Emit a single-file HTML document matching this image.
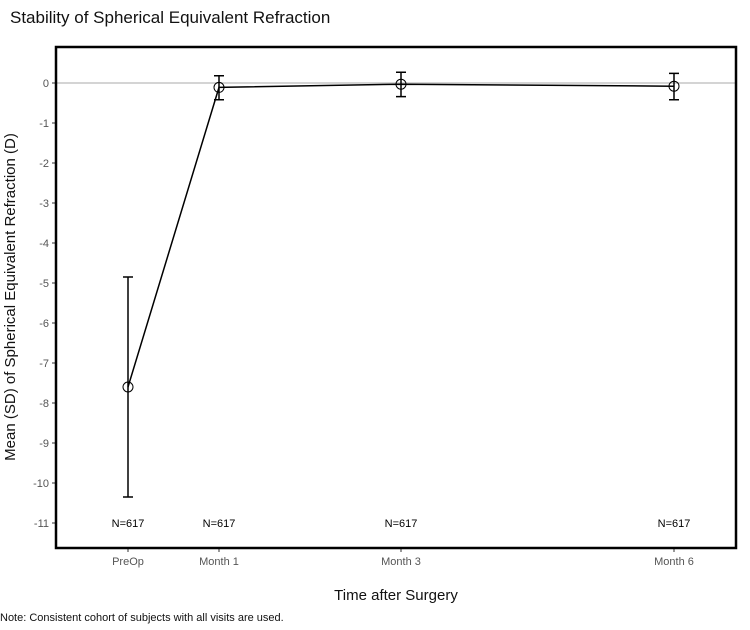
<!DOCTYPE html>
<html><head><meta charset="utf-8"><style>
body{margin:0;background:#fff;font-family:"Liberation Sans",sans-serif}
</style></head><body>
<svg width="750" height="625" xmlns="http://www.w3.org/2000/svg" font-family="Liberation Sans, sans-serif">
<text x="10" y="23" font-size="17" fill="#111">Stability of Spherical Equivalent Refraction</text>
<g id="yaxis"></g>
<g id="xaxis"></g>
<line x1="56" x2="736" y1="83" y2="83" stroke="#bbb" stroke-width="1.2" id="zero"/>
<g id="marks"></g>
<rect x="56" y="47" width="680" height="501" fill="none" stroke="#000" stroke-width="2.5"/>
<text x="15" y="297" font-size="15" fill="#111" text-anchor="middle" transform="rotate(-90 15 297)">Mean (SD) of Spherical Equivalent Refraction (D)</text>
<text x="396" y="600" font-size="15" fill="#111" text-anchor="middle">Time after Surgery</text>
<text x="0" y="621" font-size="11" fill="#111">Note: Consistent cohort of subjects with all visits are used.</text>
</svg>
<script>
const categories=["PreOp","Month 1","Month 3","Month 6"];
const months=[0,1,3,6];
const means=[-7.6,-0.11,-0.03,-0.08];
const upper=[-4.85,0.18,0.27,0.24];
const lower=[-10.35,-0.42,-0.34,-0.42];
const counts=["N=617","N=617","N=617","N=617"];
const yTicks=[0,-1,-2,-3,-4,-5,-6,-7,-8,-9,-10,-11];
const NS="http://www.w3.org/2000/svg";
const X=m=>128+m*91;
const Y=v=>83-v*40;
function mk(tag,attrs,parent,txt){const e=document.createElementNS(NS,tag);for(const k in attrs)e.setAttribute(k,attrs[k]);if(txt!==undefined)e.textContent=txt;parent.appendChild(e);return e;}
const ya=document.getElementById('yaxis'),xa=document.getElementById('xaxis'),g=document.getElementById('marks');
yTicks.forEach(t=>{
  const l=mk('line',{x1:52,x2:56,y1:Y(t),y2:Y(t),stroke:'#333'},ya);
  
  
  const tx=mk('text',{x:49,y:Y(t)+4,'font-size':11,'text-anchor':'end',fill:'#555'},ya,String(t));
  
  
});
categories.forEach((c,i)=>{
  const x=X(months[i]);
  const l=mk('line',{x1:x,x2:x,y1:548,y2:552,stroke:'#333'},xa);
  
  
  const tx=mk('text',{x:x,y:565,'font-size':11,'text-anchor':'middle',fill:'#555'},xa,c);
  
  
  const n=mk('text',{x:x,y:Y(-11)+4,'font-size':11,'text-anchor':'middle',fill:'#000'},g,counts[i]);
  
  
});
const pts=means.map((m,i)=>X(months[i])+','+Y(m)).join(' ');
const pl=mk('polyline',{points:pts,fill:'none',stroke:'#000','stroke-width':1.5},g);


means.forEach((m,i)=>{
  const x=X(months[i]);
  const eb=mk('path',{d:`M${x},${Y(upper[i])}V${Y(lower[i])}M${x-5},${Y(upper[i])}H${x+5}M${x-5},${Y(lower[i])}H${x+5}`,stroke:'#000','stroke-width':1.5,fill:'none'},g);
  
  
  const c=mk('circle',{cx:x,cy:Y(m),r:5,fill:'none',stroke:'#000','stroke-width':1},g);
  
  
});
</script>
</body></html>
